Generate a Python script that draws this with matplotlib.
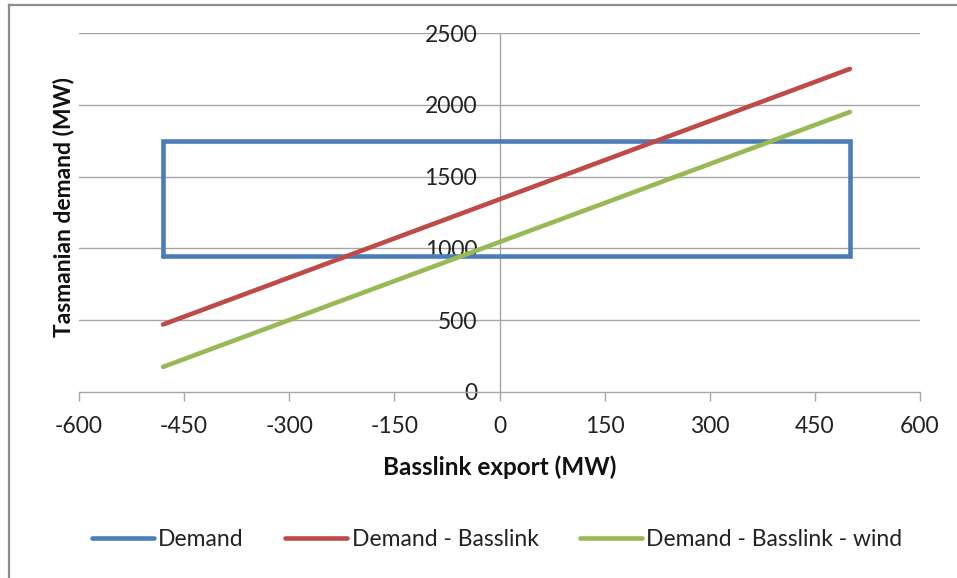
import matplotlib
matplotlib.use("Agg")
import matplotlib.pyplot as plt
from matplotlib.lines import Line2D

# ---- data ----
demand_x = [-480, 500, 500, -480, -480]
demand_y = [950, 950, 1750, 1750, 950]
export_x = [-480, 500]
demand_minus_basslink = [470, 2250]
demand_minus_basslink_wind = [175, 1950]
series_names = ["Demand", "Demand - Basslink", "Demand - Basslink - wind"]
x_ticks = [-600, -450, -300, -150, 0, 150, 300, 450, 600]
y_ticks = [0, 500, 1000, 1500, 2000, 2500]
x_title = "Basslink export (MW)"
y_title = "Tasmanian demand (MW)"

colors = ["#4A7EBB", "#BE4B48", "#98B954"]
grid_col = "#A6A6A6"
txt_col = "#222222"

plt.rcParams['font.family'] = ['Lato', 'DejaVu Sans']
W, H = 957, 578
fig = plt.figure(figsize=(W / 100, H / 100), dpi=100)
ax = fig.add_axes([79 / W, 1 - 392 / H, (920 - 79) / W, (392 - 33) / H])

ax.spines['top'].set_visible(False)
ax.spines['right'].set_visible(False)
ax.spines['left'].set_position(('data', 0))
ax.spines['left'].set_color(grid_col)
ax.spines['left'].set_linewidth(1.0)
ax.spines['bottom'].set_color(grid_col)
ax.spines['bottom'].set_linewidth(1.0)

lw = 3.3
ax.plot(demand_x, demand_y, color=colors[0], lw=lw, solid_joinstyle='miter',
        solid_capstyle='round', label=series_names[0], zorder=3)
ax.plot(export_x, demand_minus_basslink, color=colors[1], lw=lw,
        solid_capstyle='round', label=series_names[1], zorder=3)
ax.plot(export_x, demand_minus_basslink_wind, color=colors[2], lw=lw,
        solid_capstyle='round', label=series_names[2], zorder=3)

ax.set_xlim(x_ticks[0], x_ticks[-1])
ax.set_ylim(y_ticks[0], y_ticks[-1])
ax.set_xticks(x_ticks)
ax.set_yticks(y_ticks)
ax.set_xticklabels([str(v) for v in x_ticks])
ax.set_yticklabels([str(v) for v in y_ticks])
ax.tick_params(axis='y', length=0, pad=16, labelsize=16.5, labelcolor=txt_col)
ax.tick_params(axis='x', length=6.5, width=1.0, color=grid_col, pad=11,
               labelsize=16.5, labelcolor=txt_col)

for y in y_ticks[1:]:
    ax.axhline(y, color=grid_col, lw=1.0, zorder=1)

ax.patch.set_alpha(0)

fig.text(500 / W, 1 - 467 / H, x_title, fontsize=17.5, fontweight='bold',
         ha='center', va='center', color="#111111")
fig.text(63 / W, 1 - 207 / H, y_title, fontsize=16.5, fontweight='bold',
         ha='center', va='center', rotation=90, color="#111111")

# chart border (left and top visible)
fig.add_artist(Line2D([9 / W, 9 / W], [0, 1 - 5 / H], transform=fig.transFigure,
                      color="#8C8C8C", lw=1.6))
fig.add_artist(Line2D([9 / W, 1], [1 - 5 / H, 1 - 5 / H], transform=fig.transFigure,
                      color="#8C8C8C", lw=1.6))

handles, labels = ax.get_legend_handles_labels()
leg = fig.legend(handles, labels, loc='center', bbox_to_anchor=(497 / W, 1 - 540 / H),
                 ncol=3, frameon=False, fontsize=16.5, handlelength=2.7,
                 handletextpad=0.2, columnspacing=1.8)
for t in leg.get_texts():
    t.set_color(txt_col)

fig.savefig("out.png", dpi=100)
